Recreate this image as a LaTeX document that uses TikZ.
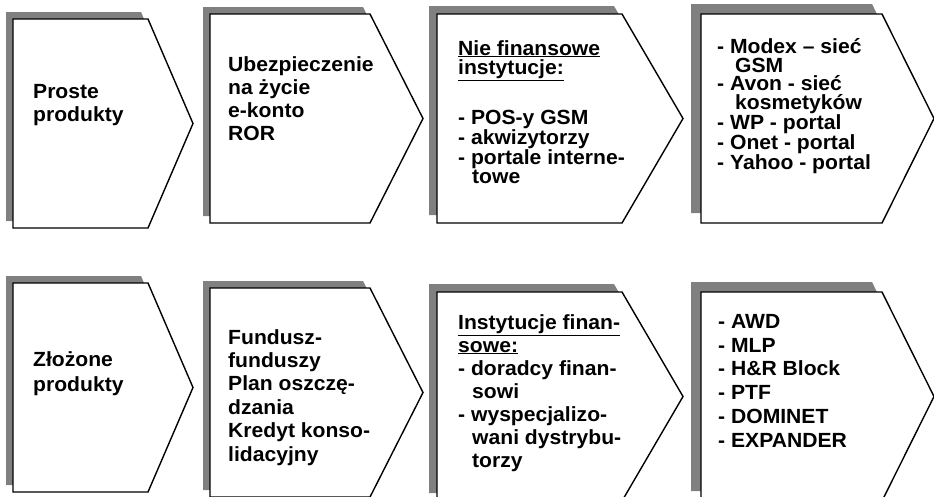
\documentclass[tikz,border=0pt]{standalone}
\usepackage{fontspec}
\setmainfont{Liberation Sans}[FakeStretch=1.03]

\tikzset{
  shadowfill/.style={fill=black!50, draw=none},
  chevron/.style={fill=white, draw=black, line width=1.4pt, line join=miter},
  boxtext/.style={anchor=north west, inner sep=0pt, align=left, font=\bfseries\fontsize{20.5}{#1}\selectfont},
  boxtext/.default=23,
}

\begin{document}
\begin{tikzpicture}[x=1pt, y=-1pt]
  \useasboundingbox (0,0) rectangle (934,496);
  % chevrons: left / top / width / tip depth / shadow offset
  \foreach \x/\y/\w/\t/\s in {13/19/135/45/7, 210/14/160/53/7, 437/14/185/61/8, 701/14/181/52/10,
                              13/283/135/45/7, 210/288/160/53/7, 437/292/185/61/8, 701/292/181/52/10} {
    \fill[shadowfill] (\x-\s,\y-\s) -- ++(\w,0) -- ++(\t,104.5) -- ++(-\t,104.5) -- ++(-\w,0) -- cycle;
    \draw[chevron] (\x,\y) -- ++(\w,0) -- ++(\t,104.5) -- ++(-\t,104.5) -- ++(-\w,0) -- cycle;
  }

  % upper row
  \node[boxtext] (simple) at (33,84) {Proste\\produkty};
  \node[boxtext] (life) at (228,56) {Ubezpieczenie\\na życie\\e-konto\\ROR};
  \node[boxtext=19] (nonfin) at (458,40) {\underline{Nie finansowe}\\\underline{instytucje:}\\[29pt]
    - POS-y GSM\\- akwizytorzy\\- portale interne-\\\hspace*{14pt}towe};
  \node[boxtext=18.5] (partners) at (717,38.5) {- Modex – sieć\\\hspace*{18pt}GSM\\- Avon - sieć\\\hspace*{18pt}kosmetyków\\
    - WP - portal\\- Onet - portal\\- Yahoo - portal};

  % lower row
  \node[boxtext=25] (complex) at (33,351) {Złożone\\produkty};
  \node[boxtext=23.4] (funds) at (228,329) {Fundusz-\\funduszy\\Plan oszczę-\\dzania\\Kredyt konso-\\lidacyjny};
  \node[boxtext] (fin) at (458,314) {\underline{Instytucje finan-}\\\underline{sowe:}\\- doradcy finan-\\\hspace*{14pt}sowi\\
    - wyspecjalizo-\\\hspace*{14pt}wani dystrybu-\\\hspace*{14pt}torzy};
  \node[boxtext=23.8] (brokers) at (718,314) {- AWD\\- MLP\\- H\&R Block\\- PTF\\- DOMINET\\- EXPANDER};
\end{tikzpicture}
\end{document}
